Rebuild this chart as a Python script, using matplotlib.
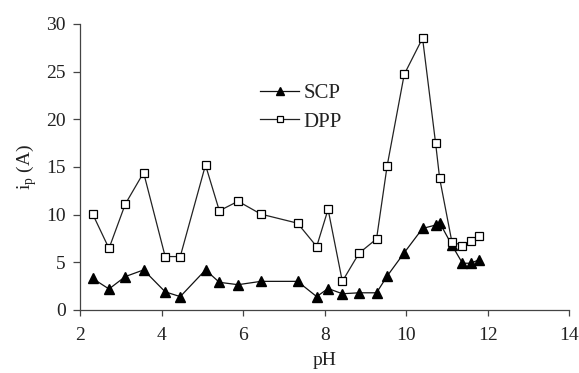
import matplotlib
matplotlib.use("Agg")
import matplotlib.pyplot as plt

plt.rcParams['font.family'] = ['Liberation Serif', 'DejaVu Serif']

# values
ph = [2.3, 2.7, 3.1, 3.55, 4.08, 4.45, 5.07, 5.41, 5.87, 6.43, 7.33, 7.8, 8.08,
      8.43, 8.84, 9.27, 9.53, 9.95, 10.4, 10.72, 10.82, 11.12, 11.38, 11.58, 11.78]
scp = [3.3, 2.2, 3.5, 4.2, 1.9, 1.4, 4.2, 2.9, 2.65, 3.0, 3.0, 1.4, 2.25,
       1.7, 1.8, 1.8, 3.55, 6.0, 8.55, 8.9, 9.15, 6.8, 4.9, 4.9, 5.25]
dpp = [10.05, 6.45, 11.1, 14.4, 5.6, 5.6, 15.2, 10.4, 11.4, 10.05, 9.1, 6.65, 10.55,
       3.0, 5.95, 7.45, 15.1, 24.7, 28.5, 17.5, 13.8, 7.15, 6.75, 7.25, 7.75]

x_ticks = [2, 4, 6, 8, 10, 12, 14]
y_ticks = [0, 5, 10, 15, 20, 25, 30]

axis_col = '#444444'

fig = plt.figure(figsize=(5.79, 3.73), dpi=100)
ax = fig.add_axes([0.139, 0.169, 0.844, 0.767])

ax.plot(ph, scp, color='#111111', lw=0.9, marker='^', ms=6.5,
        mfc='black', mec='black', label='SCP')
ax.plot(ph, dpp, color='#222222', lw=0.9, marker='s', ms=5.5,
        mfc='white', mec='black', mew=0.9, label='DPP')

ax.set_xlim(2, 14)
ax.set_ylim(0, 30)
ax.set_xticks(x_ticks)
ax.set_yticks(y_ticks)
ax.tick_params(labelsize=14, direction='out', width=0.9,
               color=axis_col, labelcolor='#222222')
ax.tick_params(axis='x', length=4, pad=8)
ax.tick_params(axis='y', length=5, pad=5.5)
ax.spines['top'].set_visible(False)
ax.spines['right'].set_visible(False)
for side in ['left', 'bottom']:
    ax.spines[side].set_linewidth(0.9)
    ax.spines[side].set_color(axis_col)

ax.set_xlabel('pH', fontsize=14, labelpad=6, color='#222222')
ax.set_ylabel(r'i$_\mathregular{p}$ (A)', fontsize=14, labelpad=5, color='#222222')

leg = ax.legend(loc='upper left', bbox_to_anchor=(0.35, 0.82), frameon=False,
                fontsize=15, handlelength=1.9, handletextpad=0.2, labelspacing=0.42,
                borderaxespad=0, markerscale=0.8)
for t in leg.get_texts():
    t.set_color('#222222')

fig.savefig('out.png', dpi=100)
